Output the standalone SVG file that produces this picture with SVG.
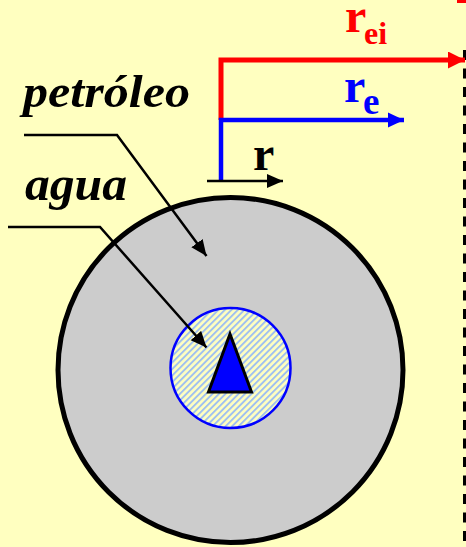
<svg xmlns="http://www.w3.org/2000/svg" width="466" height="547" viewBox="0 0 466 547">
<defs>
<style>
.lbl{font-family:"Liberation Serif","Times New Roman",serif;font-weight:bold;}
.it{font-style:italic;fill:#000;}
.lead{fill:none;stroke:#000;stroke-width:2.5;}
</style>
<marker id="ahK" markerUnits="userSpaceOnUse" markerWidth="16" markerHeight="16" refX="16" refY="8" orient="auto" viewBox="0 0 16 16"><path d="M0,1 L16,8 L0,15 z" fill="#000"/></marker>
<marker id="ahR" markerUnits="userSpaceOnUse" markerWidth="17" markerHeight="17" refX="17" refY="8.5" orient="auto" viewBox="0 0 17 17"><path d="M0,0 L17,8.5 L0,17 z" fill="#ff0000"/></marker>
<marker id="ahB" markerUnits="userSpaceOnUse" markerWidth="16" markerHeight="16" refX="16" refY="8" orient="auto" viewBox="0 0 16 16"><path d="M0,0.5 L16,8 L0,15.5 z" fill="#0000ff"/></marker>
<pattern id="hatch" patternUnits="userSpaceOnUse" width="4.6" height="4.6" patternTransform="rotate(45)">
<rect width="4.6" height="4.6" fill="#ffffc0"/>
<rect width="1.9" height="4.6" fill="#9fc0f0"/>
</pattern>
</defs>
<rect width="466" height="547" fill="#ffffc0"/>
<rect x="457" y="0" width="9" height="3" fill="#ff0000"/>
<line x1="464.5" y1="50" x2="464.5" y2="547" stroke="#000" stroke-width="3" stroke-dasharray="10,8.5"/>

<g id="outer-circle">
<circle cx="230.5" cy="370" r="172.5" fill="#cccccc" stroke="#000" stroke-width="5"/>
</g>
<g id="inner-circle">
<circle cx="230.5" cy="368" r="60" fill="url(#hatch)" stroke="#0000ff" stroke-width="2.5"/>
</g>
<g id="well">
<polygon points="230,334 208.5,392 251.5,392" fill="#0000ff" stroke="#000" stroke-width="3" stroke-linejoin="miter"/>
</g>

<g id="connectors">
<path class="lead" d="M24,135 H117 L206.5,256" marker-end="url(#ahK)"/>
<path class="lead" d="M8,227 H100 L206.5,347.5" marker-end="url(#ahK)"/>
<path d="M221,120 V60 H465" fill="none" stroke="#ff0000" stroke-width="5" marker-end="url(#ahR)"/>
<path d="M221,181 V120 H404" fill="none" stroke="#0000ff" stroke-width="4.5" marker-end="url(#ahB)"/>
<line x1="207" y1="181" x2="283" y2="181" stroke="#000" stroke-width="2.5" marker-end="url(#ahK)"/>
</g>

<g id="label-petroleo"><text class="lbl it" x="23" y="107" font-size="47" textLength="167" lengthAdjust="spacingAndGlyphs">petróleo</text></g>
<g id="label-agua"><text class="lbl it" x="25" y="200" font-size="49" textLength="102" lengthAdjust="spacingAndGlyphs">agua</text></g>
<g id="label-rei"><text class="lbl" x="345" y="32" font-size="48" fill="#ff0000">r<tspan x="364" y="44" font-size="32">ei</tspan></text></g>
<g id="label-re"><text class="lbl" x="344" y="102" font-size="48" fill="#0000ff">r<tspan x="363" y="114" font-size="37">e</tspan></text></g>
<g id="label-r"><text class="lbl" x="253" y="170" font-size="48" fill="#000">r</text></g>
</svg>
